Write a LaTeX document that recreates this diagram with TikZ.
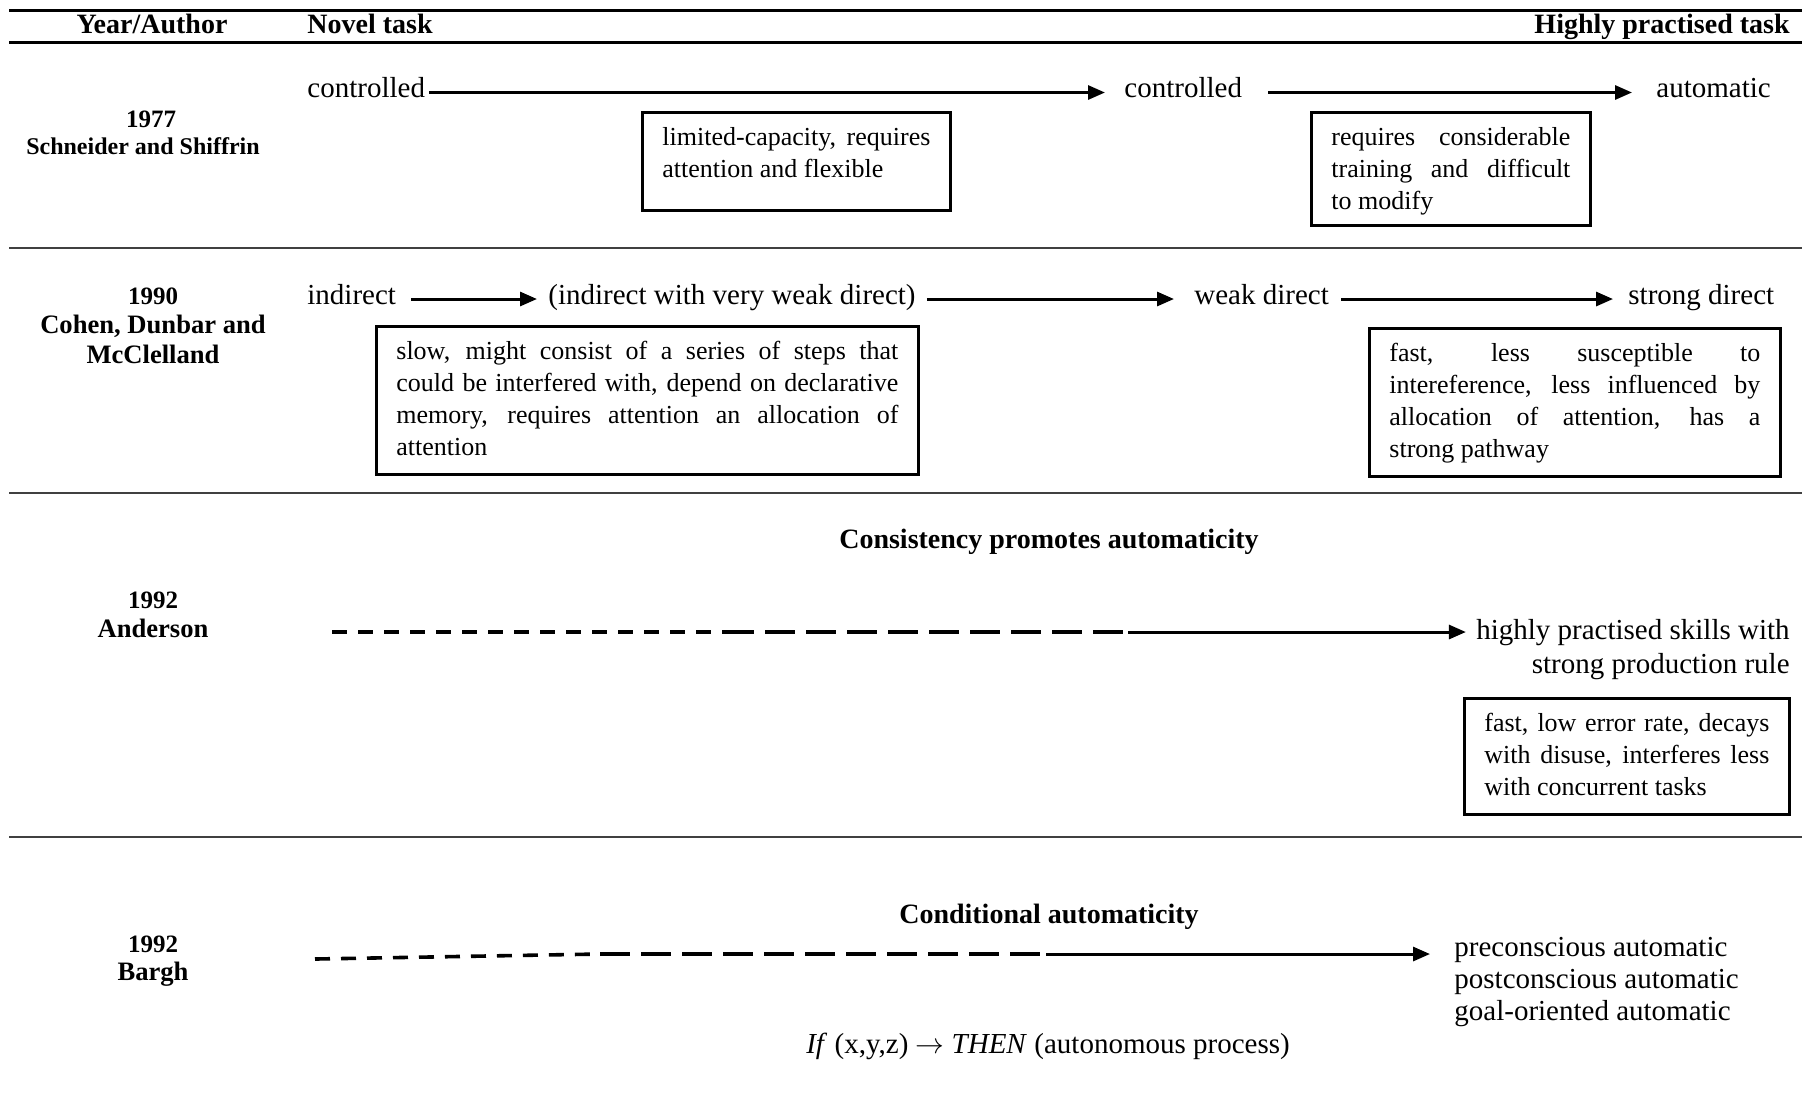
\documentclass[tikz,border=0pt]{standalone}
\usepackage{fontspec}
\setmainfont{Liberation Serif}
\usetikzlibrary{arrows.meta}

% justified box text, fixed height, text at the top
\newcommand{\boxtext}[3]{\parbox[t][#2][t]{#1}{\hyphenpenalty=10000\exhyphenpenalty=10000\fontsize{13}{16}\selectfont\strut #3}}

\begin{document}
\begin{tikzpicture}[x=0.5pt, y=-0.5pt,
    stage/.style={font=\fontsize{14.5}{17}\selectfont, inner sep=0pt, text height=9.5pt, text depth=4.5pt},
    headlbl/.style={font=\bfseries\fontsize{14}{17}\selectfont, inner sep=0pt},
    yearlbl/.style={font=\bfseries\fontsize{12.5}{15}\selectfont, inner sep=0pt, anchor=base},
    authlbl/.style={font=\bfseries\fontsize{13.3}{15}\selectfont, inner sep=0pt, anchor=base},
    descbox/.style={draw, line width=1.4pt, inner xsep=10pt, inner ysep=5.5pt, anchor=north west},
    flow/.style={-{Triangle[length=8.5pt,width=7pt]}, line width=1.5pt},
    smalldash/.style={line width=1.8pt, dash pattern=on 7.5pt off 5.5pt},
    longdash/.style={line width=1.8pt, dash pattern=on 15pt off 5.5pt},
    seprule/.style={line width=1pt, black!75}]
    \useasboundingbox (0,0) rectangle (1802,1116);
    % table rules
    \draw[line width=1.5pt] (9,10) -- (1802,10);
    \draw[line width=1.5pt] (9,42) -- (1802,42);
    \draw[seprule] (9,248) -- (1802,248);
    \draw[seprule] (9,493) -- (1802,493);
    \draw[seprule] (9,837) -- (1802,837);
    % header
    \node[headlbl, anchor=base] (yahead) at (152,33) {Year/Author};
    \node[headlbl, anchor=base west] (novel) at (307,33) {Novel task};
    \node[headlbl, anchor=base east] (practised) at (1790,33) {Highly practised task};
    % 1977
    \node[yearlbl] (yr77) at (151,127) {1977};
    \node[yearlbl, font=\bfseries\fontsize{12}{14}\selectfont] (au77) at (143,154) {Schneider and Shiffrin};
    \node[stage, anchor=base west] (ctla) at (307,97.5) {controlled};
    \node[stage, anchor=base west] (ctlb) at (1124,97.5) {controlled};
    \node[stage, anchor=base west] (auto) at (1656,97.5) {automatic};
    \draw[flow, shorten <=2pt, shorten >=9.5pt] (ctla) -- (ctlb);
    \draw[flow, shorten <=13pt, shorten >=12pt] (ctlb) -- (auto);
    \node[descbox] (cap) at (641,111) {\boxtext{134pt}{38pt}{limited-capacity, requires\linebreak attention and flexible}};
    \node[descbox] (train) at (1310,111) {\boxtext{119.5pt}{45.5pt}{requires considerable\linebreak training and difficult\linebreak to modify}};
    % 1990
    \node[yearlbl] (yr90) at (153,304) {1990};
    \node[authlbl] (au90a) at (153,333) {Cohen, Dunbar and};
    \node[authlbl] (au90b) at (153,363) {McClelland};
    \node[stage, anchor=base west] (ind) at (307,304) {indirect};
    \node[stage, anchor=base west] (indw) at (548,304) {(indirect with very weak direct)};
    \node[stage, anchor=base west] (wdir) at (1194,304) {weak direct};
    \node[stage, anchor=base west] (sdir) at (1628,304) {strong direct};
    \draw[flow, shorten <=7.5pt, shorten >=5.5pt] (ind) -- (indw);
    \draw[flow, shorten <=5.5pt, shorten >=10pt] (indw) -- (wdir);
    \draw[flow, shorten <=6pt, shorten >=7.5pt] (wdir) -- (sdir);
    \node[descbox] (slow) at (375,325) {\boxtext{251pt}{63pt}{slow, might consist of a series of steps that\linebreak could be interfered with, depend on declarative\linebreak memory, requires attention an allocation of\linebreak attention}};
    \node[descbox] (fastc) at (1368,327) {\boxtext{185.5pt}{63pt}{fast, less susceptible to\linebreak intereference, less influenced by\linebreak allocation of attention, has a\linebreak strong pathway}};
    % 1992 Anderson
    \node[headlbl, anchor=base] (consist) at (1049,548) {Consistency promotes automaticity};
    \node[yearlbl] (yr92a) at (153,608) {1992};
    \node[authlbl] (au92a) at (153,637) {Anderson};
    \node[stage, anchor=base east] (hpa) at (1790,639) {highly practised skills with};
    \node[stage, anchor=base east] (hpb) at (1790,673) {strong production rule};
    \coordinate (ada) at (332,632);
    \coordinate (adb) at (724,632);
    \coordinate (adc) at (1128,632);
    \draw[smalldash] (ada) -- (adb);
    \draw[longdash] (adb) -- (adc);
    \draw[flow, shorten >=5pt] (adc) -- (adc -| hpa.west);
    \node[descbox] (fasta) at (1463,697) {\boxtext{142.5pt}{47pt}{fast, low error rate, decays\linebreak with disuse, interferes less\linebreak with concurrent tasks}};
    % 1992 Bargh
    \node[headlbl, anchor=base] (cond) at (1049,923) {Conditional automaticity};
    \node[yearlbl] (yr92b) at (153,952) {1992};
    \node[authlbl] (au92b) at (153,980) {Bargh};
    \node[stage, anchor=base west] (pre) at (1454,956) {preconscious automatic};
    \node[stage, anchor=base west] (post) at (1454,988) {postconscious automatic};
    \node[stage, anchor=base west] (goal) at (1454,1020) {goal-oriented automatic};
    \coordinate (bda) at (315,959);
    \coordinate (bdb) at (600,954);
    \coordinate (bdc) at (1046,954);
    \draw[smalldash] (bda) -- (bdb);
    \draw[longdash] (bdb) -- (bdc);
    \draw[flow, shorten >=12pt] (bdc) -- (bdc -| pre.west);
    \node[stage, anchor=base] (ifthen) at (1048,1053) {\textit{If} (x,y,z) $\rightarrow$ \textit{THEN} (autonomous process)};
\end{tikzpicture}
\end{document}
